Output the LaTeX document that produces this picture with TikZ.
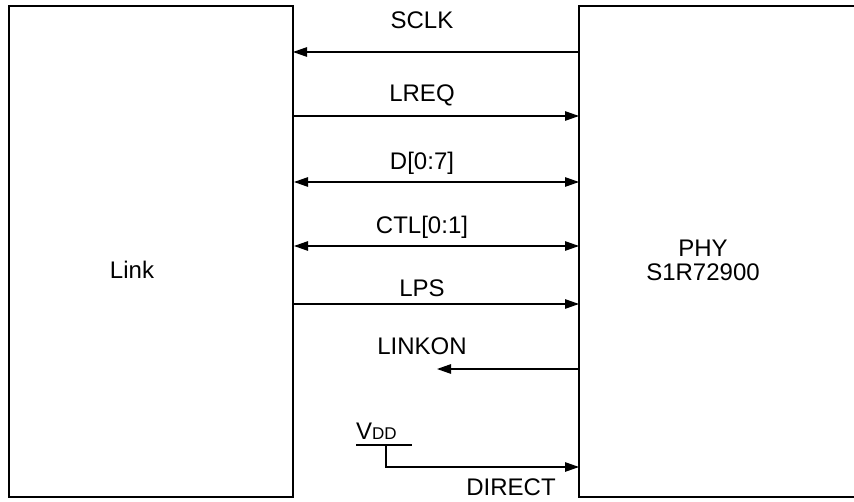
\documentclass[tikz,border=0pt]{standalone}
\usepackage{fontspec}
\setmainfont{Liberation Sans}
\usetikzlibrary{arrows.meta}
\begin{document}
\begin{tikzpicture}[x=1pt,y=-1pt,
  box/.style={draw=black,line width=1.4pt},
  sig/.style={line width=1.2pt,-{Triangle[length=14pt,width=9.5pt]}},
  bsig/.style={line width=1.2pt,{Triangle[length=14pt,width=9.5pt]}-{Triangle[length=14pt,width=9.5pt]}},
  lbl/.style={font=\fontsize{24}{28}\selectfont,inner sep=0pt}]
\useasboundingbox (0,0) rectangle (854,501);
\draw[box] (9,6) rectangle (293,497);
\draw[box] (900,6) -- (579,6) -- (579,497) -- (900,497);
\node[lbl] (link) at (132,270) {Link};
\node[lbl,align=center] (phy) at (703,260) {PHY\\[-4pt]S1R72900};
% signal end points
\coordinate (L1) at (293,52); \coordinate (R1) at (579,52);
\coordinate (L2) at (293,116); \coordinate (R2) at (579,116);
\coordinate (L3) at (294,182); \coordinate (R3) at (579,182);
\coordinate (L4) at (294,246); \coordinate (R4) at (579,246);
\coordinate (L5) at (293,304); \coordinate (R5) at (579,304);
\coordinate (L6) at (437,369); \coordinate (R6) at (579,369);
\coordinate (R7) at (579,467);
\draw[sig] (R1) -- (L1);
\draw[sig] (L2) -- (R2);
\draw[bsig] (L3) -- (R3);
\draw[bsig] (L4) -- (R4);
\draw[sig] (L5) -- (R5);
\draw[sig] (R6) -- (L6);
\node[lbl] (sclk) at (422,20) {SCLK};
\node[lbl] (lreq) at (422,95) {LREQ};
\node[lbl] (d07) at (422,163) {D[0:7]};
\node[lbl] (ctl) at (422,227) {CTL[0:1]};
\node[lbl] (lps) at (422,288) {LPS};
\node[lbl] (linkon) at (422,346) {LINKON};
% VDD
\coordinate (vl) at (356,445); \coordinate (vr) at (412,445);
\coordinate (vt) at (386,445);
\draw[line width=1.2pt] (vl) -- (vr);
\node[lbl,anchor=base west] (vdd) at (356,439) {V{\fontsize{17}{20}\selectfont DD}};
\draw[line width=1.2pt,-{Triangle[length=14pt,width=9.5pt]}] (vt) -- (386,467) -- (R7);
\node[lbl] (direct) at (511,487) {DIRECT};
\end{tikzpicture}
\end{document}
